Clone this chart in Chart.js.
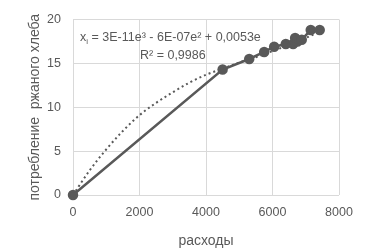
<!DOCTYPE html>
<html>
<head>
<meta charset="utf-8">
<script src="https://cdn.jsdelivr.net/npm/chart.js@4"></script>
<style>
  html, body { margin: 0; padding: 0; background: #fff; }
  #wrap { width: 372px; height: 252px; }
</style>
</head>
<body>
<div id="wrap"><canvas id="grafico" width="372" height="252"></canvas></div>
<script>
// расходы / потребление ржаного хлеба
const rashody = [0, 4500, 5300, 5750, 6050, 6400, 6620, 6680, 6750, 6880, 7150, 7420];
const potreblenie = [0, 14.3, 15.5, 16.3, 16.9, 17.2, 17.2, 17.9, 17.5, 17.7, 18.8, 18.8];

// dotted trend line
const trendX = [0, 500, 1000, 1500, 2000, 2500, 3000, 3500, 4000, 4500, 5000, 5500, 6000, 6500, 7000, 7420];
const trendY = [0, 2.8, 5.2, 7.3, 9.1, 10.5, 11.7, 12.8, 13.7, 14.4, 15.1, 15.7, 16.4, 17.1, 17.9, 18.6];

const xTicks = [0, 2000, 4000, 6000, 8000];
const yTicks = [0, 5, 10, 15, 20];

const ecuacion = ['x', 'i', ' = 3E-11e³ - 6E-07e² + 0,0053e'];
const r2 = 'R² = 0,9986';

const gris = '#595959';
const rejilla = '#d9d9d9';
const fuente = 'Liberation Sans, Arial, sans-serif';

const puntos = rashody.map((v, i) => ({ x: v, y: potreblenie[i] }));
const tendencia = trendX.map((v, i) => ({ x: v, y: trendY[i] }));

const textoEcuacion = {
        id: 'textoEcuacion',
        afterDatasetsDraw(chart) {
                const ctx = chart.ctx;
                const a = chart.chartArea;
                ctx.save();
                ctx.fillStyle = gris;
                ctx.textBaseline = 'alphabetic';
                ctx.font = '12.5px ' + fuente;
                let x = a.left + 7;
                let y = a.top + 21;
                ctx.fillText(ecuacion[0], x, y);
                x += ctx.measureText(ecuacion[0]).width;
                ctx.font = '8px ' + fuente;
                ctx.fillText(ecuacion[1], x, y + 3);
                x += ctx.measureText(ecuacion[1]).width;
                ctx.font = '12.5px ' + fuente;
                ctx.fillText(ecuacion[2], x, y);
                ctx.fillText(r2, a.left + 67, a.top + 39);
                ctx.restore();
        }
};

let myChart = new Chart(document.getElementById('grafico'), {
        type: 'scatter',
        data: {
                datasets: [{
                        label: 'данные',
                        data: puntos,
                        showLine: true,
                        borderColor: gris,
                        backgroundColor: gris,
                        borderWidth: 2.5,
                        pointRadius: 4,
                        pointHoverRadius: 4,
                        clip: false,
                        order: 1
                }, {
                        label: 'тренд',
                        data: tendencia,
                        showLine: true,
                        borderColor: gris,
                        borderWidth: 2,
                        borderDash: [2, 3],
                        pointRadius: 0,
                        cubicInterpolationMode: 'monotone',
                        order: 2
                }]
        },
        options: {
                responsive: false,
                animation: false,
                devicePixelRatio: 1,
                layout: { padding: { left: 0, right: 33, top: 18, bottom: 0 } },
                plugins: {
                        legend: { display: false },
                        tooltip: { enabled: false }
                },
                scales: {
                        x: {
                                type: 'linear',
                                min: 0, max: 8000,
                                afterBuildTicks: s => { s.ticks = xTicks.map(v => ({ value: v })); },
                                afterFit: s => { s.height = 57; },
                                grid: { color: rejilla, drawTicks: false },
                                border: { display: false },
                                ticks: { color: gris, padding: 10, font: { family: fuente, size: 12.5 }, callback: v => String(v) },
                                title: { display: true, text: 'расходы', color: gris, padding: { top: 0, bottom: 2 }, font: { family: fuente, size: 14 } }
                        },
                        y: {
                                min: 0, max: 20,
                                afterBuildTicks: s => { s.ticks = yTicks.map(v => ({ value: v })); },
                                afterFit: s => { s.width = 73; },
                                grid: { color: rejilla, drawTicks: false },
                                border: { display: false },
                                ticks: { color: gris, padding: 12, font: { family: fuente, size: 12.5 }, callback: v => String(v) },
                                title: { display: true, text: 'потребление  ржаного хлеба', color: gris, padding: { top: 27, bottom: 0 }, font: { family: fuente, size: 14 } }
                        }
                }
        },
        plugins: [textoEcuacion]
});
</script>
</body>
</html>
